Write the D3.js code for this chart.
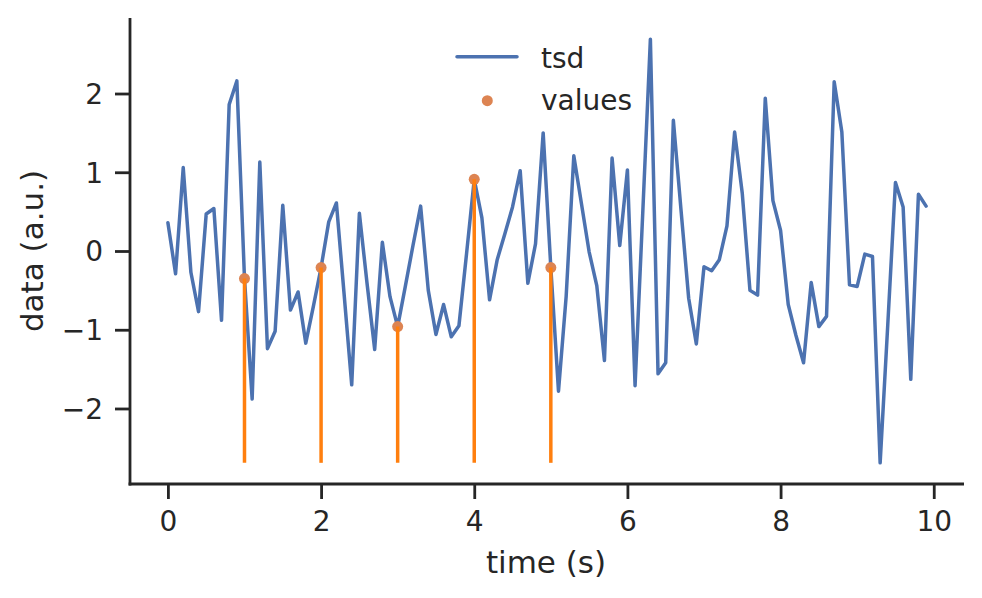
<!DOCTYPE html>
<html>
<head>
<meta charset="utf-8">
<script src="https://cdn.jsdelivr.net/npm/d3@7/dist/d3.min.js"></script>
<style>
  html, body { margin: 0; padding: 0; background: #fff; }
  svg { display: block; }
  text { font-family: "DejaVu Sans", sans-serif; fill: #262626; }
</style>
</head>
<body>
<svg id="chart" width="982" height="598"></svg>
<script>
// ---- data ----
const tsdTime = [
  0.0,0.1,0.2,0.3,0.4,0.5,0.6,0.7,0.8,0.9,
  1.0,1.1,1.2,1.3,1.4,1.5,1.6,1.7,1.8,1.9,
  2.0,2.1,2.2,2.3,2.4,2.5,2.6,2.7,2.8,2.9,
  3.0,3.1,3.2,3.3,3.4,3.5,3.6,3.7,3.8,3.9,
  4.0,4.1,4.2,4.3,4.4,4.5,4.6,4.7,4.8,4.9,
  5.0,5.1,5.2,5.3,5.4,5.5,5.6,5.7,5.8,5.9,
  6.0,6.1,6.2,6.3,6.4,6.5,6.6,6.7,6.8,6.9,
  7.0,7.1,7.2,7.3,7.4,7.5,7.6,7.7,7.8,7.9,
  8.0,8.1,8.2,8.3,8.4,8.5,8.6,8.7,8.8,8.9,
  9.0,9.1,9.2,9.3,9.4,9.5,9.6,9.7,9.8,9.9
];
const tsdData = [
  0.36,-0.29,1.06,-0.27,-0.77,0.47,0.54,-0.88,1.86,2.16,
  -0.35,-1.88,1.13,-1.24,-1.02,0.58,-0.75,-0.52,-1.17,-0.70,
  -0.21,0.37,0.61,-0.54,-1.70,0.48,-0.41,-1.25,0.11,-0.58,
  -0.96,-0.45,0.07,0.57,-0.50,-1.06,-0.68,-1.09,-0.95,-0.03,
  0.91,0.42,-0.62,-0.11,0.22,0.56,1.02,-0.41,0.09,1.50,
  -0.21,-1.78,-0.58,1.21,0.60,-0.01,-0.44,-1.39,1.18,0.07,
  1.03,-1.71,0.48,2.69,-1.56,-1.42,1.66,0.52,-0.60,-1.18,
  -0.20,-0.25,-0.11,0.32,1.51,0.73,-0.50,-0.56,1.94,0.64,
  0.26,-0.68,-1.07,-1.42,-0.40,-0.96,-0.83,2.15,1.51,-0.43,
  -0.45,-0.04,-0.07,-2.69,-0.93,0.87,0.56,-1.63,0.72,0.57
];
const valueTimes = [1, 2, 3, 4, 5];
const valueData = [-0.35, -0.21, -0.96, 0.91, -0.21];
const xTicks = [0, 2, 4, 6, 8, 10];
const yTicks = [-2, -1, 0, 1, 2];
const legendLabels = ["tsd", "values"];
const xLabel = "time (s)";
const yLabel = "data (a.u.)";

// ---- layout ----
const plot = { left: 130, right: 964, top: 18, bottom: 484 };
const colors = { line: "#4c72b0", dot: "#dd8452", stem: "#ff7f0e", ink: "#262626" };
const tickFont = 28, labelFont = 31;
const lineW = 3.5, spineW = 2.8;

const svg = d3.select("#chart");

// matplotlib-style 5% margins
function padded(ext) { const r = ext[1] - ext[0]; return [ext[0] - 0.05 * r, ext[1] + 0.05 * r]; }
const xDom = padded(d3.extent(tsdTime));
const yDom = padded(d3.extent(tsdData));
const x = d3.scaleLinear().domain(xDom).range([plot.left, plot.right]);
const y = d3.scaleLinear().domain(yDom).range([plot.bottom, plot.top]);

const fmt = d => (d < 0 ? "\u2212" + Math.abs(d) : String(d));

// x axis
const xAxis = d3.axisBottom(x).tickValues(xTicks).tickSize(15).tickPadding(12).tickFormat(fmt);
const gx = svg.append("g").attr("transform", `translate(0,${plot.bottom})`).call(xAxis);
gx.select(".domain").remove();
gx.selectAll(".tick line").attr("stroke", colors.ink).attr("stroke-width", spineW);
gx.selectAll(".tick text").attr("font-size", tickFont).attr("fill", colors.ink)
  .attr("font-family", "DejaVu Sans, sans-serif").attr("dy", "0.71em");

// y axis
const yAxis = d3.axisLeft(y).tickValues(yTicks).tickSize(15).tickPadding(12).tickFormat(fmt);
const gy = svg.append("g").attr("transform", `translate(${plot.left},0)`).call(yAxis);
gy.select(".domain").remove();
gy.selectAll(".tick line").attr("stroke", colors.ink).attr("stroke-width", spineW);
gy.selectAll(".tick text").attr("font-size", tickFont).attr("fill", colors.ink)
  .attr("font-family", "DejaVu Sans, sans-serif").attr("dy", "0.35em");

// spines
svg.append("line").attr("x1", plot.left).attr("x2", plot.left)
  .attr("y1", plot.top).attr("y2", plot.bottom + spineW / 2)
  .attr("stroke", colors.ink).attr("stroke-width", spineW);
svg.append("line").attr("x1", plot.left - spineW / 2).attr("x2", plot.right)
  .attr("y1", plot.bottom).attr("y2", plot.bottom)
  .attr("stroke", colors.ink).attr("stroke-width", spineW);

// axis labels
svg.append("text").attr("x", (plot.left + plot.right) / 2 - 1).attr("y", 573)
  .attr("text-anchor", "middle").attr("font-size", labelFont).text(xLabel);
svg.append("text").attr("transform", `translate(43,${(plot.top + plot.bottom) / 2}) rotate(-90)`)
  .attr("text-anchor", "middle").attr("font-size", labelFont).text(yLabel);

// tsd line
const pts = tsdTime.map((t, i) => [t, tsdData[i]]);
svg.append("path").datum(pts)
  .attr("d", d3.line().x(d => x(d[0])).y(d => y(d[1])))
  .attr("fill", "none").attr("stroke", colors.line).attr("stroke-width", lineW)
  .attr("stroke-linejoin", "round").attr("stroke-linecap", "round");

// value dots
const vals = valueTimes.map((t, i) => [t, valueData[i]]);
svg.append("g").selectAll("circle").data(vals).join("circle")
  .attr("cx", d => x(d[0])).attr("cy", d => y(d[1])).attr("r", 5.5)
  .attr("fill", colors.dot);

// stems from series minimum to each value
const yMin = d3.min(tsdData);
svg.append("g").selectAll("line").data(vals).join("line")
  .attr("x1", d => x(d[0])).attr("x2", d => x(d[0]))
  .attr("y1", y(yMin)).attr("y2", d => y(d[1]))
  .attr("stroke", colors.stem).attr("stroke-width", lineW);

// legend
const lg = svg.append("g");
lg.append("line").attr("x1", 457).attr("x2", 517).attr("y1", 56.7).attr("y2", 56.7)
  .attr("stroke", colors.line).attr("stroke-width", lineW).attr("stroke-linecap", "round");
lg.append("circle").attr("cx", 487.3).attr("cy", 100.7).attr("r", 5.5).attr("fill", colors.dot);
lg.append("text").attr("x", 541).attr("y", 68.3).attr("font-size", tickFont).text(legendLabels[0]);
lg.append("text").attr("x", 541).attr("y", 110).attr("font-size", tickFont).text(legendLabels[1]);
</script>
</body>
</html>
